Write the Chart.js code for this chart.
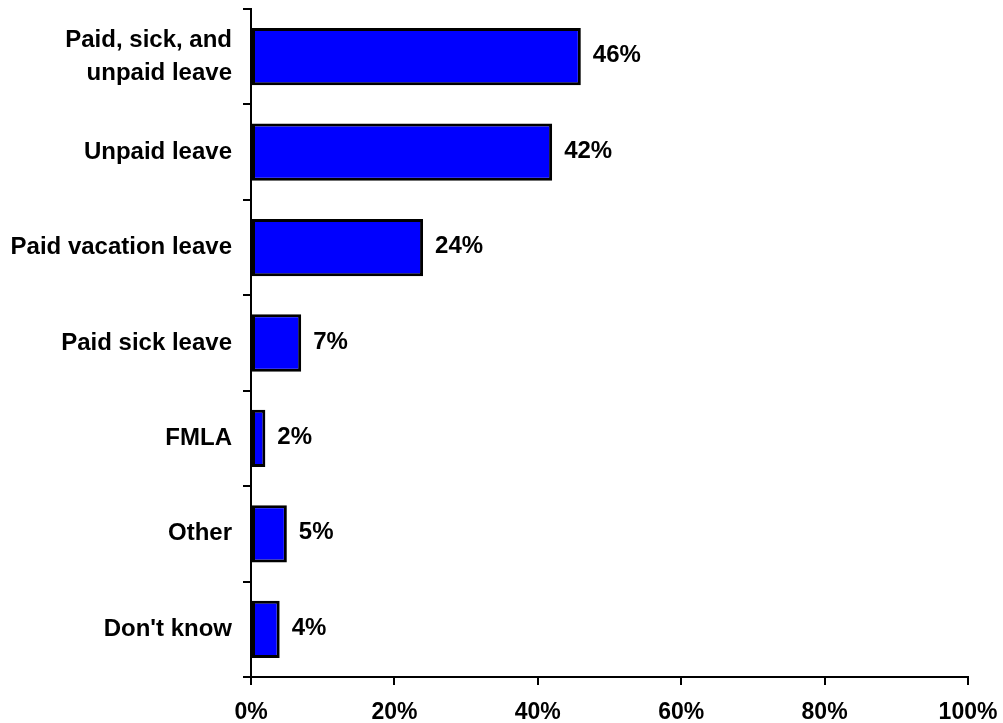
<!DOCTYPE html>
<html lang="en">
<head>
    <meta charset="UTF-8">
    <title>Leave used</title>
    <script src="https://cdn.jsdelivr.net/npm/chart.js"></script>
    <style>
        body { margin: 0; background: #fff; }
        #wrap { width: 1003px; height: 723px; }
    </style>
</head>
<body>
<div id="wrap"><canvas id="leaveChart" width="1003" height="723"></canvas></div>
<script>
    const categories = [
        ['Paid, sick, and', 'unpaid leave'],
        'Unpaid leave',
        'Paid vacation leave',
        'Paid sick leave',
        'FMLA',
        'Other',
        "Don't know"
    ];
    const values = [46, 42, 24, 7, 2, 5, 4];
    const xTicks = [0, 20, 40, 60, 80, 100];

    const fontFamily = '"Liberation Sans", Arial, sans-serif';

    // value labels to the right of every bar
    const valueLabels = {
        id: 'valueLabels',
        afterDatasetsDraw(chart) {
            const ctx = chart.ctx;
            const meta = chart.getDatasetMeta(0);
            ctx.save();
            ctx.font = 'bold 24px ' + fontFamily;
            ctx.fillStyle = '#000';
            ctx.textAlign = 'left';
            ctx.textBaseline = 'middle';
            meta.data.forEach((bar, i) => {
                ctx.fillText(values[i] + '%', bar.x + 12, bar.y - 1);
            });
            ctx.restore();
        }
    };

    new Chart(document.getElementById('leaveChart').getContext('2d'), {
        type: 'bar',
        data: {
            labels: categories,
            datasets: [{
                data: values,
                backgroundColor: '#0000ff',
                borderColor: '#000',
                borderWidth: 3,
                borderSkipped: false,
                barPercentage: 0.6,
                categoryPercentage: 1
            }]
        },
        options: {
            indexAxis: 'y',
            responsive: false,
            animation: false,
            layout: { padding: { top: 9, right: 35, left: 0, bottom: 0 } },
            plugins: {
                legend: { display: false },
                tooltip: { enabled: false }
            },
            scales: {
                x: {
                    min: 0,
                    max: 100,
                    afterBuildTicks: (scale) => {
                        scale.ticks = xTicks.map(v => ({ value: v }));
                    },
                    afterFit: (scale) => {
                        scale.height = 46;
                        scale.paddingLeft = 0;
                        scale.paddingRight = 0;
                    },
                    border: { color: '#000', width: 2 },
                    grid: {
                        drawOnChartArea: false,
                        color: '#000',
                        lineWidth: 2,
                        tickLength: 8
                    },
                    ticks: {
                        color: '#000',
                        padding: 14,
                        maxRotation: 0,
                        font: { family: fontFamily, size: 23, weight: 'bold' },
                        callback: (v) => v + '%'
                    }
                },
                y: {
                    afterFit: (scale) => {
                        scale.width = 251;
                        scale.paddingTop = 0;
                        scale.paddingBottom = 0;
                    },
                    border: { color: '#000', width: 2 },
                    grid: {
                        drawOnChartArea: false,
                        offset: true,
                        color: '#000',
                        lineWidth: 2,
                        tickLength: 8
                    },
                    ticks: {
                        color: '#000',
                        padding: 11,
                        font: { family: fontFamily, size: 24, weight: 'bold', lineHeight: 1.4 }
                    }
                }
            }
        },
        plugins: [valueLabels]
    });
</script>
</body>
</html>
